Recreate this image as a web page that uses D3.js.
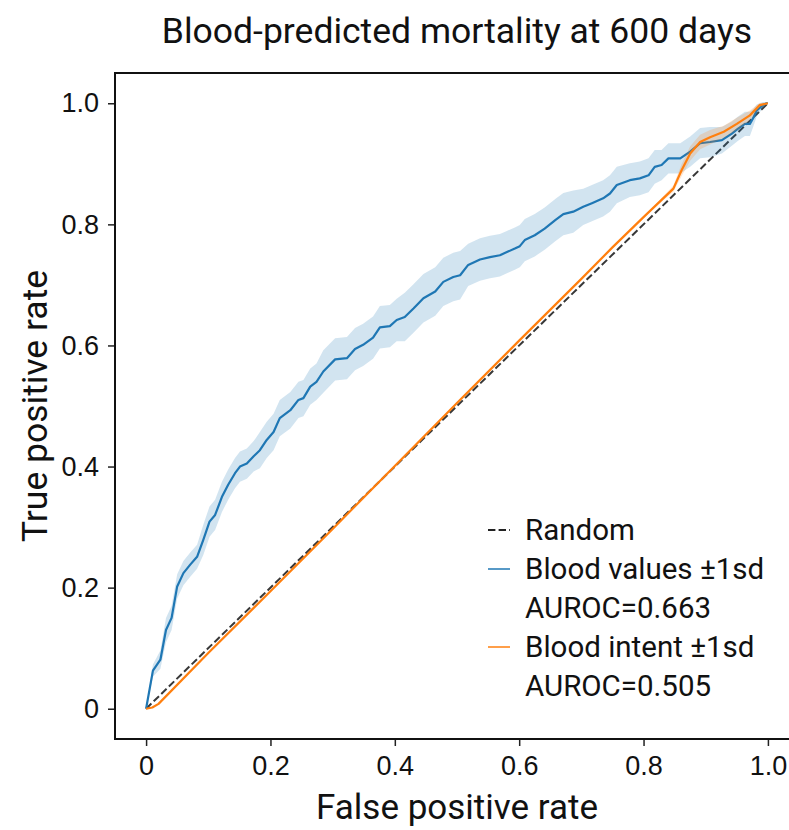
<!DOCTYPE html>
<html>
<head>
<meta charset="utf-8">
<script src="https://cdn.jsdelivr.net/npm/d3@7"></script>
<style>
  body { margin: 0; background: #fff; }
  svg { display: block; font-family: Roboto, "DejaVu Sans", sans-serif; }
</style>
</head>
<body>
<svg id="roc" width="789" height="830"></svg>
<script>
// blood values curve (mean tpr and +-1sd)
const fprBlue = [0, 0.011, 0.023, 0.032, 0.041, 0.050, 0.060, 0.071, 0.082, 0.092,
    0.102, 0.111, 0.122, 0.132, 0.143, 0.151, 0.162, 0.173, 0.183, 0.194,
    0.205, 0.215, 0.232, 0.245, 0.253, 0.264, 0.274, 0.285, 0.304, 0.323,
    0.336, 0.349, 0.365, 0.376, 0.392, 0.403, 0.416, 0.430, 0.446, 0.465,
    0.478, 0.494, 0.505, 0.518, 0.537, 0.553, 0.569, 0.582, 0.593, 0.601,
    0.609, 0.625, 0.641, 0.658, 0.671, 0.687, 0.703, 0.717, 0.735, 0.746,
    0.757, 0.778, 0.794, 0.808, 0.818, 0.829, 0.840, 0.859, 0.875, 0.891,
    0.907, 0.926, 0.942, 0.952, 0.963, 0.971, 0.976, 0.982, 0.992, 0.998, 1];
const tprBlue = [0, 0.063, 0.081, 0.130, 0.150, 0.202, 0.224, 0.238, 0.251, 0.279,
    0.309, 0.320, 0.350, 0.370, 0.389, 0.400, 0.405, 0.417, 0.427, 0.444,
    0.457, 0.480, 0.493, 0.510, 0.513, 0.532, 0.540, 0.557, 0.577, 0.579,
    0.594, 0.601, 0.613, 0.630, 0.632, 0.642, 0.647, 0.661, 0.678, 0.689,
    0.705, 0.713, 0.716, 0.733, 0.742, 0.746, 0.749, 0.755, 0.760, 0.764,
    0.774, 0.782, 0.793, 0.807, 0.817, 0.821, 0.829, 0.835, 0.843, 0.851,
    0.865, 0.873, 0.876, 0.881, 0.895, 0.898, 0.909, 0.909, 0.920, 0.934,
    0.936, 0.939, 0.950, 0.958, 0.966, 0.966, 0.975, 0.988, 0.997, 1.0, 1];
const sdBlue = [0, 0.01, 0.015, 0.02, 0.02, 0.02, 0.02, 0.02, 0.02, 0.025,
    0.025, 0.025, 0.025, 0.025, 0.025, 0.025, 0.025, 0.025, 0.03, 0.03,
    0.03, 0.03, 0.03, 0.03, 0.03, 0.03, 0.03, 0.035, 0.035, 0.035,
    0.035, 0.035, 0.035, 0.035, 0.035, 0.035, 0.04, 0.04, 0.04, 0.04,
    0.04, 0.04, 0.04, 0.035, 0.035, 0.035, 0.035, 0.035, 0.035, 0.035,
    0.035, 0.035, 0.035, 0.035, 0.035, 0.035, 0.03, 0.03, 0.03, 0.03,
    0.03, 0.028, 0.028, 0.028, 0.028, 0.025, 0.025, 0.025, 0.025, 0.025,
    0.025, 0.022, 0.02, 0.02, 0.02, 0.02, 0.015, 0.01, 0.005, 0.002, 0];

// blood intent curve
const fprOrange = [0, 0.01, 0.02, 0.1, 0.2, 0.3, 0.4, 0.5, 0.6, 0.7, 0.75, 0.8,
    0.848, 0.861, 0.875, 0.891, 0.907, 0.929, 0.95, 0.971, 0.987, 1];
const tprOrange = [0, 0.002, 0.008, 0.092, 0.194, 0.297, 0.401, 0.505, 0.608, 0.71, 0.762, 0.812,
    0.859, 0.889, 0.917, 0.936, 0.944, 0.953, 0.966, 0.980, 0.997, 1];
const sdOrange = [0, 0, 0, 0, 0, 0, 0, 0, 0, 0, 0, 0,
    0.005, 0.01, 0.012, 0.012, 0.012, 0.01, 0.01, 0.008, 0.004, 0];

const randomLine = [0, 1];
const tickValues = [0, 0.2, 0.4, 0.6, 0.8, 1.0];
const tickLabels = ['0', '0.2', '0.4', '0.6', '0.8', '1.0'];
const legendRows = [
    {label: 'Random', kind: 'dash'},
    {label: 'Blood values \u00b11sd', kind: 'blue'},
    {label: 'AUROC=0.663', kind: 'none'},
    {label: 'Blood intent \u00b11sd', kind: 'orange'},
    {label: 'AUROC=0.505', kind: 'none'}
];

const BLUE = '#1f77b4', ORANGE = '#ff7f0e';
const margin = {left: 115, top: 73};
const plotW = 684, plotH = 666;

const svg = d3.select('svg#roc');
const x = d3.scaleLinear().domain([-0.05, 1.05]).range([margin.left, margin.left + plotW]);
const y = d3.scaleLinear().domain([-0.05, 1.05]).range([margin.top + plotH, margin.top]);

svg.append('defs').append('clipPath').attr('id', 'clip')
    .append('rect')
    .attr('x', margin.left).attr('y', margin.top)
    .attr('width', plotW).attr('height', plotH);

const plot = svg.append('g').attr('clip-path', 'url(#clip)');

// random diagonal
plot.append('path')
    .datum(randomLine)
    .attr('d', d3.line().x(d => x(d)).y(d => y(d)))
    .attr('fill', 'none')
    .attr('stroke', '#222')
    .attr('stroke-opacity', 0.9)
    .attr('stroke-width', 2)
    .attr('stroke-dasharray', '7.4,3.2');

function drawCurve(fpr, tpr, sd, color) {
    const pts = fpr.map((f, i) => ({f: f, t: tpr[i], s: sd[i]}));
    plot.append('path')
        .datum(pts)
        .attr('d', d3.area()
            .x(d => x(d.f))
            .y0(d => y(d.t - d.s))
            .y1(d => y(Math.min(d.t + d.s, 1.05))))
        .attr('fill', color)
        .attr('fill-opacity', 0.2)
        .attr('stroke', 'none');
    plot.append('path')
        .datum(pts)
        .attr('d', d3.line().x(d => x(d.f)).y(d => y(d.t)))
        .attr('fill', 'none')
        .attr('stroke', color)
        .attr('stroke-width', 2.2)
        .attr('stroke-linejoin', 'round');
}
drawCurve(fprBlue, tprBlue, sdBlue, BLUE);
drawCurve(fprOrange, tprOrange, sdOrange, ORANGE);

// axes
const xAxis = svg.append('g')
    .attr('transform', 'translate(0,' + (margin.top + plotH) + ')')
    .call(d3.axisBottom(x).tickValues(tickValues).tickFormat((d, i) => tickLabels[i])
        .tickSizeInner(7).tickSizeOuter(0).tickPadding(10));
const yAxis = svg.append('g')
    .attr('transform', 'translate(' + margin.left + ',0)')
    .call(d3.axisLeft(y).tickValues(tickValues).tickFormat((d, i) => tickLabels[i])
        .tickSizeInner(7).tickSizeOuter(0).tickPadding(9));
[xAxis, yAxis].forEach(a => {
    a.select('.domain').remove();
    a.selectAll('.tick line').attr('stroke', '#222').attr('stroke-width', 1.5);
    a.selectAll('.tick text').attr('fill', '#111').style('font-size', '27px');
});

// spines (top, left, bottom; right one falls outside the window)
svg.append('rect')
    .attr('x', margin.left).attr('y', margin.top)
    .attr('width', plotW).attr('height', plotH)
    .attr('fill', 'none')
    .attr('stroke', '#111')
    .attr('stroke-width', 2);

// title and axis labels
svg.append('text')
    .attr('x', margin.left + plotW / 2).attr('y', 43)
    .attr('text-anchor', 'middle')
    .style('font-size', '35.5px').attr('fill', '#111')
    .text('Blood-predicted mortality at 600 days');
svg.append('text')
    .attr('x', margin.left + plotW / 2).attr('y', 819)
    .attr('text-anchor', 'middle')
    .style('font-size', '35px').attr('fill', '#111')
    .text('False positive rate');
svg.append('text')
    .attr('transform', 'translate(47,' + (margin.top + plotH / 2) + ') rotate(-90)')
    .attr('text-anchor', 'middle')
    .style('font-size', '35.5px').attr('fill', '#111')
    .text('True positive rate');

// legend
const legend = svg.append('g').attr('transform', 'translate(488,530)');
const rows = legend.selectAll('g')
    .data(legendRows)
    .enter()
    .append('g')
    .attr('transform', (d, i) => 'translate(0,' + i * 39 + ')');
rows.filter(d => d.kind !== 'none')
    .append('line')
    .attr('x1', 0).attr('x2', 22)
    .attr('y1', 0).attr('y2', 0)
    .attr('stroke', d => d.kind === 'dash' ? '#222' : (d.kind === 'blue' ? BLUE : ORANGE))
    .attr('stroke-width', d => d.kind === 'dash' ? 2 : 1.5)
    .attr('stroke-dasharray', d => d.kind === 'dash' ? '7.4,3.2' : null);
rows.append('text')
    .attr('x', 37).attr('y', 0)
    .attr('dy', '0.35em')
    .style('font-size', '29.5px').attr('fill', '#111')
    .text(d => d.label);
</script>
</body>
</html>
